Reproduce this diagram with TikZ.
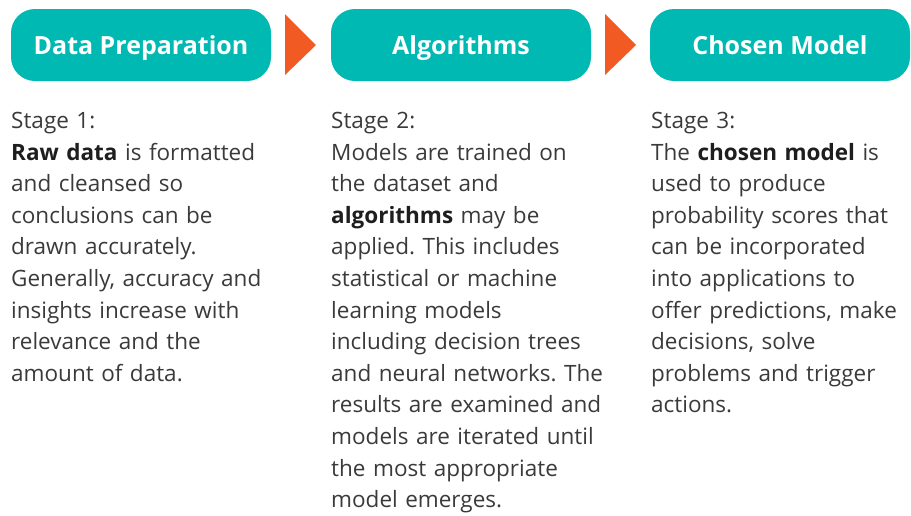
\documentclass[tikz,border=0pt]{standalone}
\usepackage{fontspec}
\setmainfont{Open Sans}
\frenchspacing
\definecolor{teal1}{HTML}{00B9B2}
\definecolor{orng}{HTML}{F25A24}
\definecolor{bodyc}{HTML}{3A3A3A}
\definecolor{boldc}{HTML}{1E1E1E}
\tikzset{
  header/.style={fill=teal1, rounded corners=24pt, minimum width=260pt, minimum height=72pt, inner sep=0pt, text=white, text height=18pt, text depth=0pt, font=\fontsize{25}{30}\selectfont\bfseries},
  stagetext/.style={anchor=north west, inner sep=0pt, text width=300pt, align=left, text=bodyc, font=\fontsize{22.5}{31.6}\selectfont},
  chev/.style={fill=orng, draw=none}
}
\newcommand{\bw}[1]{\textbf{\color{boldc}#1}}
\begin{document}
\begin{tikzpicture}[x=1pt,y=-1pt]
\useasboundingbox (0,0) rectangle (911,515);
\node[header] (h1) at (141,45) {Data Preparation};
\node[header] (h2) at (461,45) {Algorithms};
\node[header] (h3) at (780,45) {Chosen Model};
\fill[chev] (285,14) -- (316,45) -- (285,75) -- cycle;
\fill[chev] (605,14) -- (636,45) -- (605,75) -- cycle;
\node[stagetext] (t1) at (11,112) {Stage 1:\\
\bw{Raw data} is formatted\\
and cleansed so\\
conclusions can be\\
drawn accurately.\\
Generally, accuracy and\\
insights increase with\\
relevance and the\\
amount of data.};
\node[stagetext] (t2) at (331,112) {Stage 2:\\
Models are trained on\\
the dataset and\\
\bw{algorithms} may be\\
applied. This includes\\
statistical or machine\\
learning models\\
including decision trees\\
and neural networks. The\\
results are examined and\\
models are iterated until\\
the most appropriate\\
model emerges.};
\node[stagetext] (t3) at (651,112) {Stage 3:\\
The \bw{chosen model} is\\
used to produce\\
probability scores that\\
can be incorporated\\
into applications to\\
offer predictions, make\\
decisions, solve\\
problems and trigger\\
actions.};
\end{tikzpicture}
\end{document}
